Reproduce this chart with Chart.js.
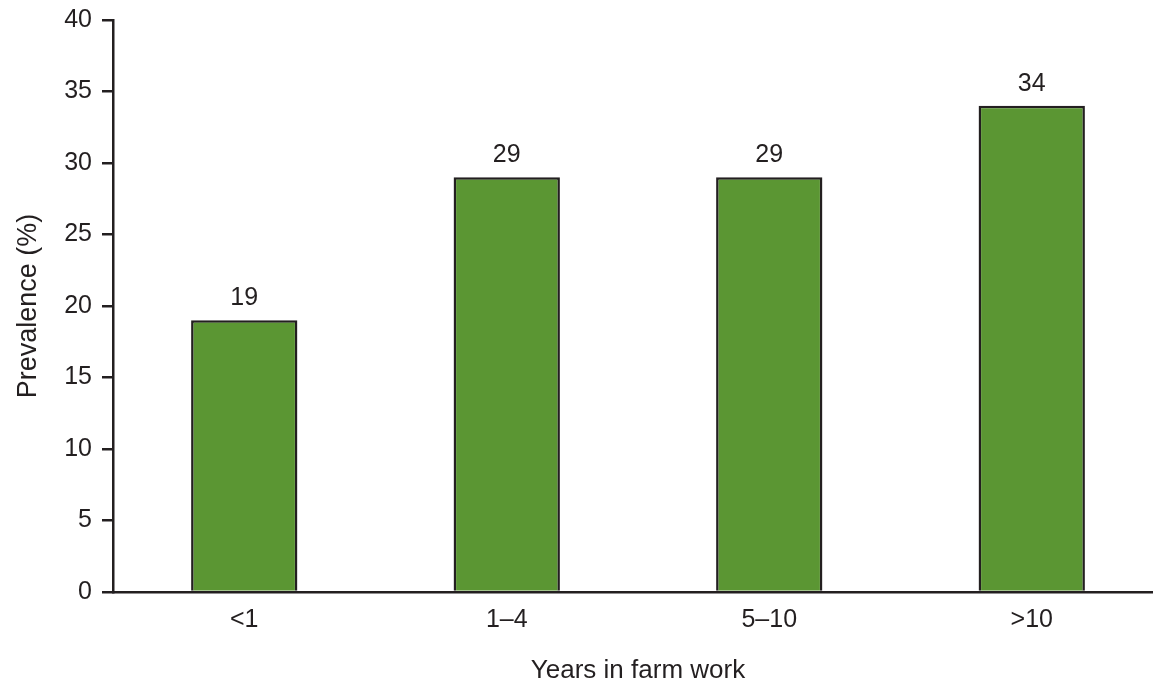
<!DOCTYPE html>
<html>
<head>
<meta charset="utf-8">
<script src="https://cdn.jsdelivr.net/npm/chart.js@4"></script>
<style>
    html, body { margin: 0; padding: 0; background: #fff; overflow: hidden; }
    #wrap { width: 1153px; height: 685px; overflow: hidden; }
</style>
</head>
<body>
<div id="wrap">
    <canvas id="prevChart" width="1163" height="685"></canvas>
</div>
<script>
const categories = ['<1', '1\u20134', '5\u201310', '>10'];
const prevalence = [19, 29, 29, 34];
const yTicks = [0, 5, 10, 15, 20, 25, 30, 35, 40];

const INK = '#231f20';
const GREEN = '#5b9633';
const FONT = '"Liberation Sans", Arial, Helvetica, sans-serif';

// small inline plugin for the value labels above the bars
const barValueLabels = {
    id: 'barValueLabels',
    afterDatasetsDraw(chart) {
        const ctx = chart.ctx;
        const meta = chart.getDatasetMeta(0);
        ctx.save();
        ctx.font = '25px ' + FONT;
        ctx.fillStyle = INK;
        ctx.textAlign = 'center';
        ctx.textBaseline = 'alphabetic';
        meta.data.forEach((bar, i) => {
            ctx.fillText(String(prevalence[i]), bar.x, bar.y - 15);
        });
        ctx.restore();
    }
};

const ctx = document.getElementById('prevChart');

new Chart(ctx.getContext('2d'), {
    type: 'bar',
    data: {
        labels: categories,
        datasets: [{
            label: 'Prevalence (%)',
            data: prevalence,
            backgroundColor: GREEN,
            borderColor: INK,
            borderWidth: 2.5,
            borderSkipped: 'start',
            barPercentage: 0.405,
            categoryPercentage: 1
        }]
    },
    options: {
        responsive: false,
        animation: false,
        devicePixelRatio: 1,
        layout: { padding: { top: 0, left: 0, right: 0, bottom: 0 } },
        plugins: {
            legend: { display: false },
            tooltip: { enabled: false }
        },
        scales: {
            x: {
                grid: { display: true, drawOnChartArea: false, drawTicks: false },
                border: { display: true, color: INK, width: 2.5 },
                ticks: {
                    color: INK,
                    font: { family: FONT, size: 25 },
                    padding: 13,
                    maxRotation: 0
                },
                title: {
                    display: true,
                    text: 'Years in farm work',
                    color: INK,
                    font: { family: FONT, size: 26 },
                    padding: { top: 0, bottom: -1 }
                },
                afterFit: (scale) => { scale.height = 93; }
            },
            y: {
                min: 0,
                max: 40,
                afterBuildTicks: (scale) => {
                    scale.ticks = yTicks.map(v => ({ value: v }));
                },
                grid: {
                    display: true,
                    drawOnChartArea: false,
                    drawTicks: true,
                    tickLength: 11,
                    color: INK,
                    lineWidth: 2.5
                },
                border: { display: true, color: INK, width: 2.5 },
                ticks: {
                    color: INK,
                    font: { family: FONT, size: 25 },
                    padding: 10
                },
                title: {
                    display: true,
                    text: 'Prevalence (%)',
                    color: INK,
                    font: { family: FONT, size: 27 },
                    padding: { top: 12, bottom: 0 }
                },
                afterFit: (scale) => {
                    scale.width = 113;
                    scale.paddingTop = 20;
                }
            }
        }
    },
    plugins: [barValueLabels]
});
</script>
</body>
</html>
